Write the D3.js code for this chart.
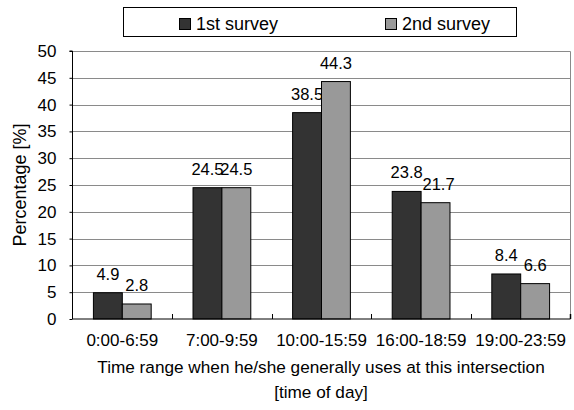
<!DOCTYPE html>
<html><head><meta charset="utf-8">
<script src="https://cdn.jsdelivr.net/npm/d3@7"></script>
<style>body{margin:0;background:#fff}svg{display:block}text{font-family:"Liberation Sans",Arial,sans-serif;fill:#000}</style>
</head><body>
<svg id="c" width="574" height="410"></svg>
<script>
const categories = ["0:00-6:59","7:00-9:59","10:00-15:59","16:00-18:59","19:00-23:59"];
const seriesNames = ["1st survey","2nd survey"];
const survey1 = [4.9, 24.5, 38.5, 23.8, 8.4];
const survey2 = [2.8, 24.5, 44.3, 21.7, 6.6];
const yTicks = [0,5,10,15,20,25,30,35,40,45,50];
const colors = ["#333333","#999999"];

const svg = d3.select("#c");
const L = 72.5, R = 570.5, T = 51, B = 319;
const x = d3.scaleBand().domain(categories).range([L, R]).paddingInner(0.42).paddingOuter(0.21);
const xs = d3.scaleBand().domain(seriesNames).range([0, x.bandwidth()]);
const y = d3.scaleLinear().domain([0, 50]).range([B, T]);
const xc = d3.scaleBand().domain(categories).range([L, R]);

// gridlines
svg.append("g").selectAll("line").data(yTicks.filter(d => d > 0)).join("line")
  .attr("x1", L).attr("x2", R).attr("y1", d => Math.round(y(d)) + 0.5).attr("y2", d => Math.round(y(d)) + 0.5)
  .attr("stroke", "#8a8a8a").attr("stroke-width", 1);
// right border
svg.append("line").attr("x1", R).attr("x2", R).attr("y1", Math.round(T)+0.5).attr("y2", B)
  .attr("stroke", "#8a8a8a");

const data = [survey1, survey2];
const g = svg.append("g");
categories.forEach((c, i) => {
  seriesNames.forEach((s, j) => {
    const v = data[j][i];
    g.append("rect")
      .attr("x", x(c) + xs(s)).attr("y", y(v))
      .attr("width", xs.bandwidth()).attr("height", y(0) - y(v))
      .attr("fill", colors[j]).attr("stroke", "#000").attr("stroke-width", 1);
    g.append("text")
      .attr("x", x(c) + xs(s) + xs.bandwidth() / 2 + (j === 1 && i === 3 ? 3 : 0))
      .attr("y", y(v) - 13)
      .attr("text-anchor", "middle").attr("font-size", 16.5).text(v);
  });
});

// axes
const yAxis = d3.axisLeft(y).tickValues(yTicks).tickSize(3).tickPadding(13);
const ya = svg.append("g").attr("transform", `translate(${L},0)`).call(yAxis);
ya.select(".domain").attr("stroke", "#000").attr("d", `M-3,${T}H0V${B}`);
ya.selectAll("text").attr("font-size", 17).attr("font-family", "Liberation Sans, Arial, sans-serif").attr("fill", "#000");

const xAxis = d3.axisBottom(xc).tickSize(0).tickPadding(15);
const xa = svg.append("g").attr("transform", `translate(0,${B})`).call(xAxis);
xa.select(".domain").attr("stroke", "#000").attr("d", `M${L},0H${R}`);
xa.selectAll("text").attr("font-size", 17).attr("font-family", "Liberation Sans, Arial, sans-serif").attr("fill", "#000");
// category separator ticks (pointing up)
svg.append("g").selectAll("line").data(categories.slice(1)).join("line")
  .attr("x1", d => Math.round(xc(d)) + 0.5).attr("x2", d => Math.round(xc(d)) + 0.5)
  .attr("y1", B).attr("y2", B - 5).attr("stroke", "#000");
svg.append("line").attr("x1", R).attr("x2", R).attr("y1", B).attr("y2", B - 5).attr("stroke", "#000").attr("stroke-width", 1.5);

// axis titles
svg.append("text").attr("transform", `translate(26,${(T + B) / 2}) rotate(-90)`)
  .attr("text-anchor", "middle").attr("font-size", 18).text("Percentage [%]");
svg.append("text").attr("x", 321).attr("y", 373).attr("text-anchor", "middle").attr("font-size", 17.2)
  .text("Time range when he/she generally uses at this intersection");
svg.append("text").attr("x", 321).attr("y", 398).attr("text-anchor", "middle").attr("font-size", 17.2)
  .text("[time of day]");

// legend
svg.append("rect").attr("x", 123.5).attr("y", 7.5).attr("width", 393).attr("height", 29)
  .attr("fill", "#fff").attr("stroke", "#000");
const legX = [179, 385];
seriesNames.forEach((s, j) => {
  svg.append("rect").attr("x", legX[j] + 0.5).attr("y", 18.5).attr("width", 11).attr("height", 11)
    .attr("fill", colors[j]).attr("stroke", "#000");
  svg.append("text").attr("x", legX[j] + 17).attr("y", 30).attr("font-size", 18).text(s);
});
</script>
</body></html>
